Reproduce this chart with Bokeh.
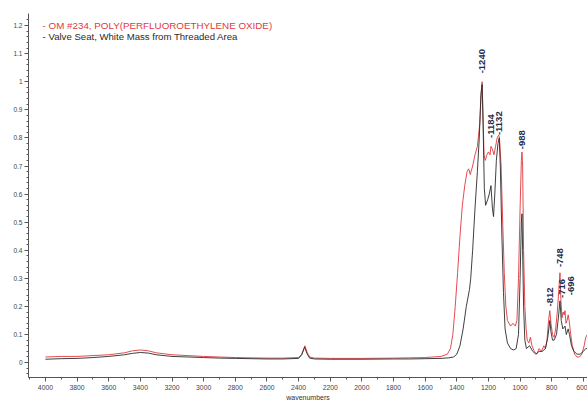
from bokeh.plotting import figure
from bokeh.models import FixedTicker, Range1d, Label, ColumnDataSource
from bokeh.core.properties import value
from bokeh.embed import file_html
from bokeh.resources import INLINE
import math

# ---- data ----
red_wn = [4000, 3900, 3800, 3700, 3600, 3500, 3450, 3400, 3350, 3300, 3200, 3100, 3000,
          2900, 2800, 2700, 2600, 2500, 2400, 2380, 2360, 2345, 2330, 2300, 2200, 2000,
          1800, 1700, 1600, 1500, 1460, 1440, 1425, 1410, 1395, 1380, 1365, 1350, 1335,
          1325, 1315, 1300, 1285, 1270, 1255, 1245, 1240, 1235, 1228, 1220, 1210, 1200,
          1190, 1184, 1175, 1165, 1155, 1145, 1135, 1130, 1120, 1110, 1100, 1090, 1080,
          1060, 1045, 1030, 1020, 1010, 1000, 992, 988, 984, 978, 970, 962, 955, 945,
          935, 925, 910, 895, 880, 865, 850, 840, 830, 820, 812, 805, 795, 785, 775,
          765, 755, 748, 742, 735, 728, 722, 716, 710, 703, 696, 690, 680, 670, 655,
          640, 625, 610, 595, 585, 575]
red_abs = [0.02, 0.022, 0.022, 0.025, 0.028, 0.035, 0.042, 0.045, 0.042, 0.035, 0.028, 0.025, 0.022,
           0.02, 0.018, 0.017, 0.016, 0.016, 0.018, 0.03, 0.06, 0.035, 0.02, 0.016, 0.015, 0.015,
           0.016, 0.017, 0.018, 0.022, 0.03, 0.05, 0.1, 0.2, 0.32, 0.45, 0.56, 0.63, 0.68,
           0.69, 0.67, 0.7, 0.74, 0.77, 0.85, 0.97, 1.0, 0.9, 0.74, 0.72, 0.74, 0.75,
           0.74, 0.77, 0.76, 0.74, 0.77, 0.8, 0.81, 0.8, 0.7, 0.5, 0.32, 0.2, 0.15,
           0.13, 0.14, 0.13, 0.15, 0.3, 0.55, 0.72, 0.75, 0.7, 0.4, 0.2, 0.12, 0.08, 0.07,
           0.09, 0.06, 0.04, 0.03, 0.05, 0.04, 0.06, 0.05, 0.08, 0.15, 0.185, 0.14, 0.1, 0.09, 0.12,
           0.18, 0.26, 0.32, 0.22, 0.16, 0.18, 0.17, 0.185, 0.14, 0.15, 0.17, 0.15, 0.1, 0.06, 0.03,
           0.02, 0.02, 0.03, 0.06, 0.09, 0.1]

black_wn = [4000, 3900, 3800, 3700, 3600, 3500, 3450, 3400, 3350, 3300, 3200, 3100, 3000,
            2900, 2800, 2700, 2600, 2500, 2400, 2380, 2362, 2345, 2330, 2300, 2200, 2000,
            1800, 1700, 1600, 1500, 1450, 1420, 1400, 1380, 1360, 1340, 1320, 1312, 1300,
            1285, 1270, 1258, 1248, 1240, 1234, 1226, 1218, 1205, 1195, 1184, 1175, 1168,
            1160, 1150, 1140, 1132, 1125, 1115, 1105, 1095, 1080, 1060, 1040, 1025, 1010,
            1000, 992, 988, 984, 978, 970, 960, 940, 920, 900, 880, 860, 840, 825, 812,
            805, 795, 785, 770, 758, 748, 740, 730, 716, 708, 696, 688, 675, 660, 640,
            620, 600, 585, 575]
black_abs = [0.012, 0.014, 0.015, 0.018, 0.022, 0.028, 0.033, 0.036, 0.034, 0.028, 0.022, 0.02, 0.018,
             0.016, 0.015, 0.014, 0.013, 0.013, 0.015, 0.028, 0.055, 0.03, 0.016, 0.013, 0.012, 0.012,
             0.013, 0.013, 0.014, 0.015, 0.017, 0.02, 0.03, 0.06, 0.12, 0.2, 0.26, 0.3, 0.4,
             0.55, 0.68, 0.8, 0.95, 0.99, 0.85, 0.62, 0.56, 0.58, 0.6, 0.63, 0.55, 0.52,
             0.6, 0.72, 0.78, 0.8, 0.7, 0.45, 0.25, 0.12, 0.07, 0.05, 0.045, 0.05, 0.1,
             0.3, 0.5, 0.53, 0.4, 0.2, 0.08, 0.05, 0.06, 0.04, 0.03, 0.04, 0.04, 0.05, 0.09, 0.15,
             0.11, 0.08, 0.08, 0.1, 0.16, 0.22, 0.15, 0.12, 0.13, 0.1, 0.12, 0.1, 0.06, 0.04, 0.03,
             0.03, 0.04, 0.05, 0.05]

peak_labels = ["1240", "1184", "1132", "988", "812", "748", "716", "696"]
peak_wn = [1240, 1184, 1132, 988, 812, 748, 716, 696]
peak_heights = [1.03, 0.8, 0.81, 0.76, 0.2, 0.34, 0.23, 0.24]
label_nudge_px = [0, 0, 0, 0, 0, 0, -3, 3]

x_ticks = [4000, 3800, 3600, 3400, 3200, 3000, 2800, 2600, 2400, 2200, 2000,
           1800, 1600, 1400, 1200, 1000, 800, 600]
y_ticks = [0, 0.1, 0.2, 0.3, 0.4, 0.5, 0.6, 0.7, 0.8, 0.9, 1, 1.1, 1.2]
y_tick_labels = ["0", "0.1", "0.2", "0.3", "0.4", "0.5", "0.6", "0.7", "0.8", "0.9", "1", "1.1", "1.2"]

series_names = ["OM #234, POLY(PERFLUOROETHYLENE OXIDE)", "Valve Seat, White Mass from Threaded Area"]

FONT = "Liberation Sans"
RED = "#e0393e"
BLACK = "#2a2a2a"
NAVY = "#1c2b4d"
AXIS = "#555555"

p = figure(width=587, height=406, output_backend="svg", toolbar_location=None,
           x_range=Range1d(4107, 574), y_range=Range1d(-0.053, 1.243),
           min_border_top=13, min_border_right=0, min_border_left=28, min_border_bottom=29)
p.background_fill_color = "white"
p.border_fill_color = "white"
p.outline_line_color = None
p.xgrid.visible = False
p.ygrid.visible = False

p.line(red_wn, red_abs, line_color=RED, line_width=1.0, line_alpha=0.9)
p.line(black_wn, black_abs, line_color=BLACK, line_width=0.9)

src = ColumnDataSource(dict(x=peak_wn, y=peak_heights, dx=label_nudge_px,
                            t=["-" + s for s in peak_labels]))
p.text(x="x", y="y", text="t", source=src, angle=math.pi / 2, x_offset="dx",
       text_align="left", text_baseline="middle", text_color=NAVY,
       text_font=value(FONT), text_font_size="9.5px", text_font_style="bold")

p.add_layout(Label(x=4018, y=1.2, text="- " + series_names[0], text_color=RED,
                   text_font=FONT, text_font_size="9.8px", text_baseline="middle"))
p.add_layout(Label(x=4018, y=1.16, text="- " + series_names[1], text_color=BLACK,
                   text_font=FONT, text_font_size="9.6px", text_baseline="middle"))

xa = p.xaxis[0]
xa.ticker = FixedTicker(ticks=x_ticks, minor_ticks=list(range(4100, 500, -100)))
xa.axis_label = "wavenumbers"
xa.axis_label_text_font = FONT
xa.axis_label_text_font_size = "7px"
xa.axis_label_text_font_style = "normal"
xa.axis_label_text_color = "#333333"
xa.axis_label_standoff = 1
xa.major_label_text_font = FONT
xa.major_label_text_font_size = "6.8px"
xa.major_label_text_color = "#444444"
xa.major_label_standoff = 3

ya = p.yaxis[0]
ya.ticker = FixedTicker(ticks=y_ticks, minor_ticks=[round(i * 0.02, 2) for i in range(-2, 62)])
ya.major_label_overrides = {t: l for t, l in zip(y_ticks, y_tick_labels)}
ya.major_label_text_font = FONT
ya.major_label_text_font_size = "6.5px"
ya.major_label_text_color = "#444444"
ya.major_label_standoff = 2

for ax in (xa, ya):
    ax.axis_line_color = AXIS
    ax.major_tick_line_color = AXIS
    ax.minor_tick_line_color = AXIS
    ax.major_tick_out = 4
    ax.major_tick_in = 0
    ax.minor_tick_out = 2
    ax.minor_tick_in = 0

open("out.html", "w").write(file_html(p, INLINE))
